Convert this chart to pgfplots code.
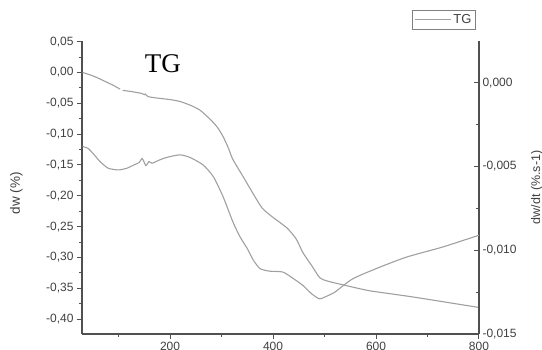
\documentclass[border=0pt]{standalone}
\usepackage{pgfplots}
\pgfplotsset{compat=1.18}
\usepackage{fontspec}
\setmainfont{Liberation Sans}
\newfontfamily\tgfont{Liberation Serif}
\definecolor{axgray}{HTML}{505050}
\definecolor{txtgray}{HTML}{404040}
\definecolor{curvegray}{HTML}{A0A0A0}

\pgfplotstableread{
T y
30 0.000
45 -0.004
60 -0.009
75 -0.015
90 -0.021
103 -0.027
105 nan
108 -0.029
125 -0.031
145 -0.034
150 -0.036
152 -0.035
157 -0.039
170 -0.041
200 -0.044
219 -0.047
239 -0.053
258 -0.061
278 -0.076
292 -0.089
303 -0.104
313 -0.122
322 -0.141
342 -0.169
361 -0.196
379 -0.220
400 -0.235
427 -0.252
445 -0.270
458 -0.292
475 -0.313
491 -0.333
505 -0.338
524 -0.342
560 -0.349
588 -0.354
630 -0.359
672 -0.364
740 -0.373
800 -0.381
}\tgdata

\pgfplotstableread{
T v
30 -0.0038
40 -0.0039
50 -0.0042
64 -0.0047
80 -0.0051
100 -0.0052
116 -0.0051
130 -0.0049
140 -0.00476
146 -0.00452
153 -0.00494
159 -0.0047
165 -0.0048
180 -0.0046
194 -0.00445
219 -0.0043
239 -0.00446
264 -0.0049
284 -0.0056
303 -0.0068
322 -0.0083
336 -0.0092
350 -0.0099
362 -0.0106
375 -0.0111
394 -0.01125
419 -0.0113
440 -0.0117
458 -0.0121
475 -0.0126
490 -0.0129
500 -0.0128
520 -0.0125
555 -0.0117
608 -0.0110
660 -0.0104
730 -0.0098
800 -0.0091
}\dtgdata

\begin{document}
\begin{tikzpicture}
\useasboundingbox (0,0) rectangle (542pt,350pt);
\begin{axis}[
  at={(82pt,16pt)}, anchor=south west,
  scale only axis, width=397pt, height=293pt,
  xmin=29, xmax=800, ymin=-0.424, ymax=0.051,
  axis x line*=bottom, axis y line*=left,
  axis line style={axgray, line width=1.2pt},
  every tick/.style={axgray, line width=1pt},
  tick align=outside,
  major tick length=5pt, minor tick length=3pt,
  xtick={200,400,600,800}, minor xtick={100,300,500,700},
  ytick={-0.40,-0.35,-0.30,-0.25,-0.20,-0.15,-0.10,-0.05,0,0.05},
  minor ytick={-0.425,-0.375,-0.325,-0.275,-0.225,-0.175,-0.125,-0.075,-0.025,0.025},
  scaled ticks=false,
  font=\fontsize{12}{14}\selectfont,
  tick label style={text=txtgray},
  /pgf/number format/assume math mode=true,
  yticklabel style={/pgf/number format/.cd, fixed, fixed zerofill, precision=2, use comma},
  xticklabel style={/pgf/number format/.cd, fixed, precision=0},
  ylabel={dw (\%)},
  ylabel style={at={(axis description cs:-0.165,0.48)}, anchor=center, text=txtgray, font=\fontsize{13.5}{15}\selectfont},
  unbounded coords=jump,
  legend style={at={(axis description cs:0.992,1.105)}, anchor=north east,
    draw=gray, line width=0.6pt, inner sep=2pt, text=txtgray,
    font=\fontsize{13}{15}\selectfont},
  legend image code/.code={\draw[curvegray, line width=0.8pt] (0pt,0pt) -- (36pt,0pt);},
]
\addplot[curvegray, line width=1.1pt, smooth, tension=0.4] table[x=T, y=y] {\tgdata};
\addlegendentry{TG}
\node[font=\tgfont\fontsize{27}{30}\selectfont, text=black] at (axis cs:186,0.015) {TG};
\end{axis}
\begin{axis}[
  at={(82pt,16pt)}, anchor=south west,
  scale only axis, width=397pt, height=293pt,
  xmin=29, xmax=800, ymin=-0.015, ymax=0.0025,
  axis y line*=right, axis x line=none,
  axis line style={axgray, line width=1.2pt},
  every tick/.style={axgray, line width=1pt},
  tick align=inside,
  major tick length=5pt, minor tick length=3pt,
  ytick={-0.015,-0.010,-0.005,0},
  minor ytick={-0.0125,-0.0075,-0.0025},
  scaled ticks=false,
  font=\fontsize{12}{14}\selectfont,
  tick label style={text=txtgray},
  /pgf/number format/assume math mode=true,
  yticklabel style={/pgf/number format/.cd, fixed, fixed zerofill, precision=3, use comma},
  ylabel={dw/dt (\%.s-1)},
  ylabel style={at={(axis description cs:1.146,0.5)}, anchor=center, rotate=0, text=txtgray, font=\fontsize{12.5}{14}\selectfont},
]
\addplot[curvegray, line width=1.1pt, smooth, tension=0.4] table[x=T, y=v] {\dtgdata};
\end{axis}
\end{tikzpicture}
\end{document}
